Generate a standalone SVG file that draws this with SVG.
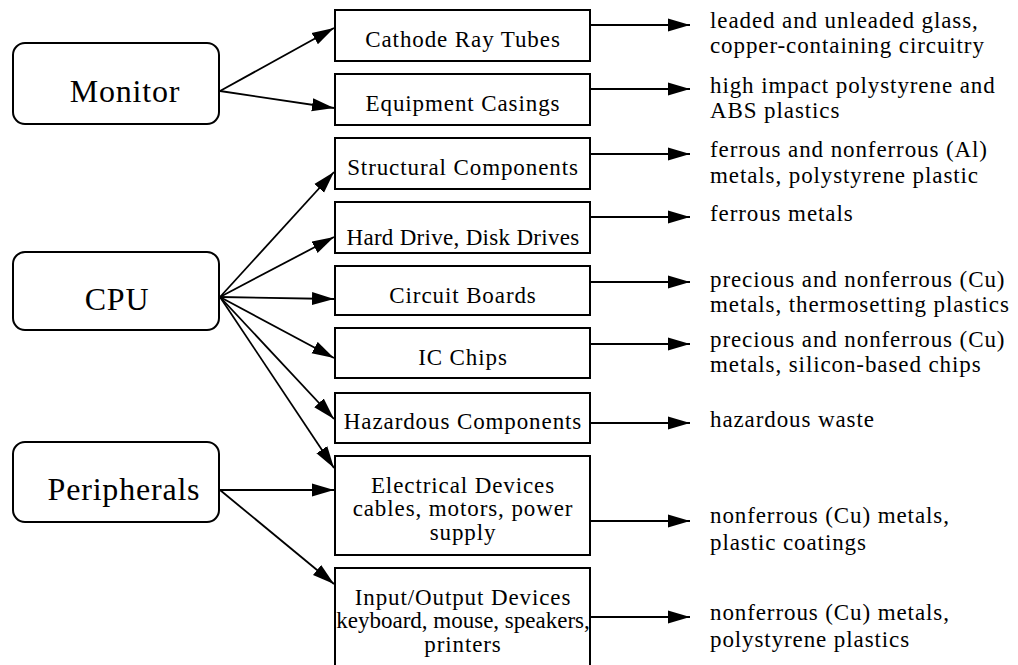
<svg xmlns="http://www.w3.org/2000/svg" width="1018" height="665" viewBox="0 0 1018 665">
<style>
.src{fill:#fff;stroke:#000;stroke-width:2}
.box{fill:#fff;stroke:#000;stroke-width:2}
.big{font-family:"Liberation Serif","Times New Roman",serif;font-size:32px;letter-spacing:0.8px;text-anchor:middle;fill:#000}
.mid{font-family:"Liberation Serif","Times New Roman",serif;font-size:23px;letter-spacing:0.9px;text-anchor:middle;fill:#000}
.out{font-family:"Liberation Serif","Times New Roman",serif;font-size:23px;letter-spacing:0.9px;fill:#000}
.con{stroke:#000;stroke-width:1.8;fill:none}
</style>
<defs>
<marker id="ah" markerUnits="userSpaceOnUse" markerWidth="24" markerHeight="14" refX="22" refY="7" orient="auto">
<path d="M0,0.5 L22,7 L0,13.5 z" fill="#000"/>
</marker>
</defs>
<rect width="1018" height="665" fill="#fff"/>
<g id="connectors">
<line class="con" x1="220" y1="91" x2="334" y2="28" marker-end="url(#ah)"/>
<line class="con" x1="220" y1="91" x2="334" y2="108" marker-end="url(#ah)"/>
<line class="con" x1="220" y1="297" x2="334" y2="172" marker-end="url(#ah)"/>
<line class="con" x1="220" y1="297" x2="334" y2="237" marker-end="url(#ah)"/>
<line class="con" x1="220" y1="297" x2="334" y2="299" marker-end="url(#ah)"/>
<line class="con" x1="220" y1="297" x2="334" y2="358" marker-end="url(#ah)"/>
<line class="con" x1="220" y1="297" x2="334" y2="419" marker-end="url(#ah)"/>
<line class="con" x1="220" y1="297" x2="334" y2="468" marker-end="url(#ah)"/>
<line class="con" x1="220" y1="490" x2="334" y2="490" marker-end="url(#ah)"/>
<line class="con" x1="220" y1="490" x2="334" y2="584" marker-end="url(#ah)"/>
<line class="con" x1="590" y1="25" x2="690" y2="25" marker-end="url(#ah)"/>
<line class="con" x1="590" y1="89" x2="690" y2="89" marker-end="url(#ah)"/>
<line class="con" x1="590" y1="154" x2="690" y2="154" marker-end="url(#ah)"/>
<line class="con" x1="590" y1="217" x2="690" y2="217" marker-end="url(#ah)"/>
<line class="con" x1="590" y1="282" x2="690" y2="282" marker-end="url(#ah)"/>
<line class="con" x1="590" y1="344" x2="690" y2="344" marker-end="url(#ah)"/>
<line class="con" x1="590" y1="423" x2="690" y2="423" marker-end="url(#ah)"/>
<line class="con" x1="590" y1="521" x2="690" y2="521" marker-end="url(#ah)"/>
<line class="con" x1="590" y1="617" x2="690" y2="617" marker-end="url(#ah)"/>
</g>
<g id="monitor"><rect class="src" x="13" y="43" width="206" height="81" rx="12"/><text class="big" x="125" y="102">Monitor</text></g>
<g id="cpu"><rect class="src" x="13" y="252" width="206" height="78" rx="12"/><text class="big" x="117" y="310">CPU</text></g>
<g id="peripherals"><rect class="src" x="13" y="442" width="206" height="80" rx="12"/><text class="big" x="124" y="500">Peripherals</text></g>
<g id="crt"><rect class="box" x="335" y="10" width="255" height="51"/><text class="mid" x="463" y="47">Cathode Ray Tubes</text></g>
<g id="casings"><rect class="box" x="335" y="74" width="255" height="51"/><text class="mid" x="463" y="111">Equipment Casings</text></g>
<g id="structural"><rect class="box" x="335" y="138" width="255" height="51"/><text class="mid" x="463" y="175">Structural Components</text></g>
<g id="harddrive"><rect class="box" x="335" y="202" width="255" height="51"/><text class="mid" x="463" y="245" style="letter-spacing:0.3px">Hard Drive, Disk Drives</text></g>
<g id="circuit"><rect class="box" x="335" y="266" width="255" height="49"/><text class="mid" x="463" y="303">Circuit Boards</text></g>
<g id="ic"><rect class="box" x="335" y="328" width="255" height="50"/><text class="mid" x="463" y="365">IC Chips</text></g>
<g id="hazardous"><rect class="box" x="335" y="393" width="255" height="50"/><text class="mid" x="463" y="429">Hazardous Components</text></g>
<g id="electrical"><rect class="box" x="335" y="456" width="255" height="99"/><text class="mid" x="463" y="493">Electrical Devices</text><text class="mid" x="463" y="516">cables, motors, power</text><text class="mid" x="463" y="540">supply</text></g>
<g id="io"><rect class="box" x="335" y="568" width="255" height="102"/><text class="mid" x="463" y="605">Input/Output Devices</text><text class="mid" x="463" y="628" style="letter-spacing:0px">keyboard, mouse, speakers,</text><text class="mid" x="463" y="652">printers</text></g>
<g id="outputs">
<text class="out" x="710" y="28">leaded and unleaded glass,</text>
<text class="out" x="710" y="53">copper-containing circuitry</text>
<text class="out" x="710" y="93">high impact polystyrene and</text>
<text class="out" x="710" y="118">ABS plastics</text>
<text class="out" x="710" y="157">ferrous and nonferrous (Al)</text>
<text class="out" x="710" y="183">metals, polystyrene plastic</text>
<text class="out" x="710" y="221">ferrous metals</text>
<text class="out" x="710" y="287">precious and nonferrous (Cu)</text>
<text class="out" x="710" y="312">metals, thermosetting plastics</text>
<text class="out" x="710" y="347">precious and nonferrous (Cu)</text>
<text class="out" x="710" y="372">metals, silicon-based chips</text>
<text class="out" x="710" y="427">hazardous waste</text>
<text class="out" x="710" y="523">nonferrous (Cu) metals,</text>
<text class="out" x="710" y="550">plastic coatings</text>
<text class="out" x="710" y="620">nonferrous (Cu) metals,</text>
<text class="out" x="710" y="647">polystyrene plastics</text>
</g>
</svg>
